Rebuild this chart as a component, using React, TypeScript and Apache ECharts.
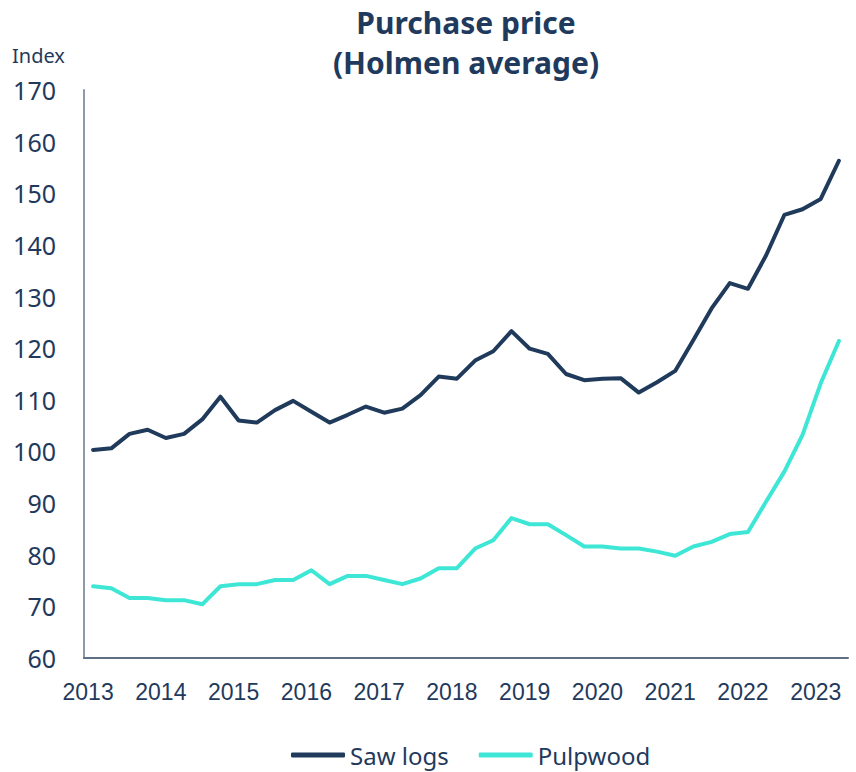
import React, { useEffect, useRef } from "react";
import * as echarts from "echarts";

const years = ["2013", "2014", "2015", "2016", "2017", "2018", "2019", "2020", "2021", "2022", "2023"];
const quarters = ["Q1", "Q2", "Q3", "Q4"];
const categories: string[] = [];
years.forEach((y) => quarters.forEach((q) => categories.push(`${y} ${q}`)));
categories.length = 42; // 2013 Q1 – 2023 Q2

const sawLogs = [
  100.3, 100.6, 103.4, 104.2, 102.6, 103.4, 106.2, 110.6, 106.0, 105.6,
  108.0, 109.8, 107.7, 105.6, 107.1, 108.7, 107.5, 108.3, 110.9, 114.5,
  114.1, 117.6, 119.4, 123.3, 119.9, 118.9, 115.0, 113.8, 114.1, 114.2,
  111.4, 113.4, 115.6, 121.6, 127.7, 132.6, 131.5, 138.0, 145.8, 146.9,
  148.9, 156.3,
];

const pulpwood = [
  73.9, 73.5, 71.6, 71.6, 71.2, 71.2, 70.4, 73.9, 74.3, 74.3,
  75.1, 75.1, 77.0, 74.3, 75.9, 75.9, 75.1, 74.3, 75.4, 77.4,
  77.4, 81.2, 82.8, 87.1, 85.9, 85.9, 83.8, 81.6, 81.6, 81.2,
  81.2, 80.6, 79.8, 81.6, 82.5, 84.0, 84.4, 90.3, 96.1, 103.2,
  113.2, 121.4,
];

const TEXT = "#1f3a5c";
const SAW = "#1f3a5a";
const PULP = "#3ee6d5";

export default function App() {
  const ref = useRef<HTMLDivElement>(null);
  useEffect(() => {
    if (!ref.current) return;
    const chart = echarts.init(ref.current, null, { renderer: "svg" });
    chart.setOption({
      animation: false,
      backgroundColor: "#ffffff",
      graphic: [
        {
          type: "text",
          x: 466,
          y: 22,
          style: {
            text: "Purchase price",
            fill: TEXT,
            font: "bold 30px 'Noto Sans', sans-serif",
            textAlign: "center",
            textVerticalAlign: "middle",
          },
        },
        {
          type: "text",
          x: 466,
          y: 62,
          style: {
            text: "(Holmen average)",
            fill: TEXT,
            font: "bold 30px 'Noto Sans', sans-serif",
            textAlign: "center",
            textVerticalAlign: "middle",
          },
        },
        {
          type: "text",
          x: 12,
          y: 55,
          style: {
            text: "Index",
            fill: TEXT,
            font: "20px 'Noto Sans', sans-serif",
            textAlign: "left",
            textVerticalAlign: "middle",
          },
        },
      ],
      grid: { left: 84, right: 8, top: 90, bottom: 114, containLabel: false },
      legend: {
        bottom: 0,
        left: 286,
        data: ["Saw logs", "Pulpwood"],
        icon: "roundRect",
        itemWidth: 54,
        itemHeight: 5,
        itemGap: 30,
        textStyle: { color: TEXT, fontSize: 24, fontFamily: "Noto Sans" },
      },
      xAxis: {
        type: "category",
        data: categories,
        boundaryGap: true,
        axisLine: { show: true, lineStyle: { color: "#5f7085", width: 2 } },
        axisTick: { show: false },
        axisLabel: {
          interval: 3,
          formatter: (v: string) => v.slice(0, 4),
          color: TEXT,
          fontSize: 23,
          fontFamily: "Liberation Sans, Arial, sans-serif",
          margin: 22,
          padding: [0, 10, 0, 0],
        },
        splitLine: { show: false },
      },
      yAxis: {
        type: "value",
        min: 60,
        max: 170,
        interval: 10,
        axisLine: { show: true, lineStyle: { color: "#8e9aab", width: 2 } },
        axisTick: { show: false },
        splitLine: { show: false },
        axisLabel: {
          color: TEXT,
          fontSize: 25,
          fontFamily: "Noto Sans",
          margin: 28,
        },
      },
      series: [
        {
          name: "Saw logs",
          type: "line",
          data: sawLogs,
          symbol: "none",
          lineStyle: { color: SAW, width: 4, cap: "round", join: "round" },
          itemStyle: { color: SAW },
        },
        {
          name: "Pulpwood",
          type: "line",
          data: pulpwood,
          symbol: "none",
          lineStyle: { color: PULP, width: 4, cap: "round", join: "round" },
          itemStyle: { color: PULP },
        },
      ],
    });
    return () => chart.dispose();
  }, []);
  return (
    <div
      ref={ref}
      style={{ position: "fixed", left: 0, top: 0, width: 856, height: 772 }}
    />
  );
}
